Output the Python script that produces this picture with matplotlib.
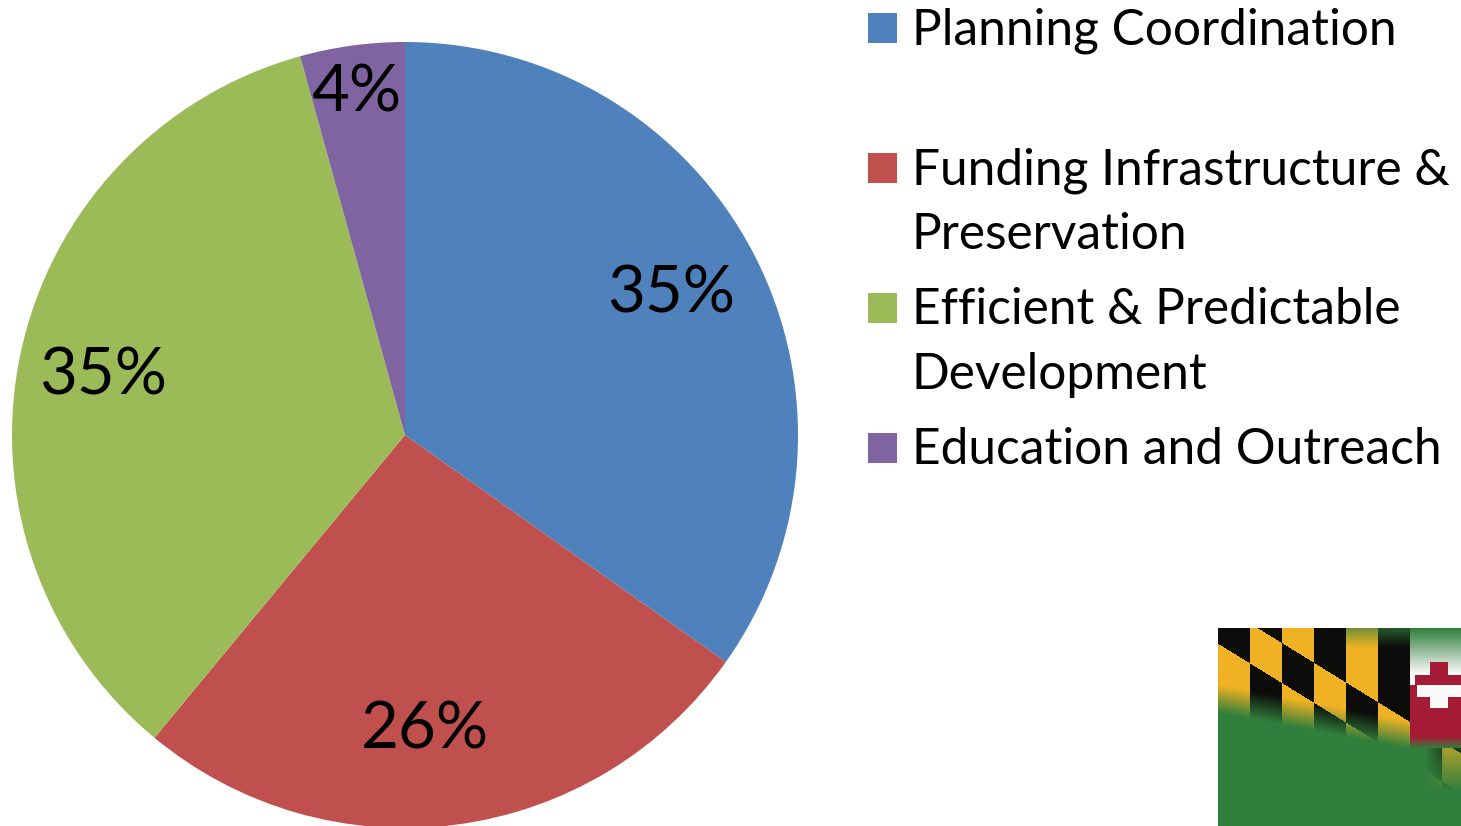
import numpy as np
import matplotlib
matplotlib.use("Agg")
import matplotlib.pyplot as plt

labels = ["Planning Coordination", "Funding Infrastructure &\nPreservation",
          "Efficient & Predictable\nDevelopment", "Education and Outreach"]
shares = [34.8, 26.2, 34.7, 4.3]
colors = ["#4F81BD", "#C0504D", "#9BBB59", "#8064A2"]

W, H = 1461, 826
FONT = ["Lato", "DejaVu Sans"]

fig = plt.figure(figsize=(W / 100, H / 100), dpi=100)
fig.patch.set_facecolor("white")

# pie axes: centre (405, 435) px, radius 393 px
cx, cy, r = 405, 435, 393
ax = fig.add_axes([(cx - r) / W, (H - cy - r) / H, 2 * r / W, 2 * r / H])
wedges, texts, autotexts = ax.pie(shares, colors=colors, startangle=90, counterclock=False,
                                  autopct="%.0f%%", pctdistance=0.76,
                                  wedgeprops=dict(linewidth=0),
                                  textprops=dict(fontsize=47, family=FONT, color="black"))
ax.set_xlim(-1, 1)
ax.set_ylim(-1, 1)
ax.set_aspect("equal")

# nudge the percent labels to where the original puts them
label_r = [0.766, 0.753, 0.782, 0.88]
label_da = [0.5, -3.7, 1.0, 0.3]
for w, t, lr, da in zip(wedges, autotexts, label_r, label_da):
    a = np.deg2rad((w.theta1 + w.theta2) / 2 + da)
    t.set_position((lr * np.cos(a), lr * np.sin(a)))

# legend drawn by hand
row_base = [44, 184, 324, 464]
line_gap = 65
for lab, col, yb in zip(labels, colors, row_base):
    fig.patches.append(plt.Rectangle((868 / W, 1 - (yb - 1) / H), 29 / W, 30 / H,
                                     transform=fig.transFigure, facecolor=col,
                                     edgecolor="none"))
    for k, line in enumerate(lab.split("\n")):
        fig.text(912 / W, 1 - (yb + k * line_gap) / H, line, fontsize=35.7,
                 family=FONT, va="baseline", ha="left", color="black")

# Maryland flag corner picture
fx0, fy0, fw, fh = 1218, 628, 243, 198
yy, xx = np.mgrid[0:fh, 0:fw].astype(float)
px = xx + fx0
py = yy + fy0
green = np.array([49, 127, 61]) / 255
yellow = np.array([240, 178, 36]) / 255
black = np.array([12, 12, 10]) / 255
red = np.array([165, 26, 52]) / 255
white = np.array([250, 250, 250]) / 255

img = np.ones((fh, fw, 3)) * green
col = np.floor((px - 1218) / 32.0)
lineB = 628.3 + 0.616 * (px - 1258.3)
in_bend = (py >= lineB) & (py < lineB + 40)
is_black = ((col % 2) == 1) ^ in_bend
pat = np.where(is_black[..., None], black, yellow)
y_end = 712 + 0.19 * (px - 1218)
fade = np.clip((y_end - py) / 28.0, 0, 1)
top_fade = np.where(px > 1345, np.clip(0.35 + (py - 628) / 30.0, 0, 1), 1)
fade = fade * top_fade
fade = np.where(py >= 748, 0, fade)
in_pat = px < 1410
f = np.where(in_pat, fade, 0)[..., None]
img = img * (1 - f) + pat * f

# faint pattern continuing below the quadrant
low = (px >= 1410) & (py >= 748)
lf = np.clip((790 - py) / 40.0, 0, 1) * np.clip((px - 1425) / 20.0, 0, 1) * 0.6
lf = np.where(low, lf, 0)[..., None]
img = img * (1 - lf) + pat * lf

# quadrant with cross
quad = (px >= 1410) & (py < 748)
upper = py < 685
vert = np.abs(px - 1438.5) <= 8.5
red_up = (vert & (py >= 662)) | ((px >= 1415) & (py >= 675))
white_lo = (vert & (py < 708)) | ((px >= 1417) & (py < 697))
qcol = np.where((upper & ~red_up)[..., None], white, red)
qcol = np.where((~upper & white_lo)[..., None], white, qcol)
wf = np.clip((py - 628) / 45.0, 0, 1)[..., None]
qcol = np.where((upper & ~red_up)[..., None], green * (1 - wf) + white * wf, qcol)
qf = np.clip((748 - py) / 12.0, 0, 1)[..., None]
qcol = green * (1 - qf) + qcol * qf
img = np.where(quad[..., None], qcol, img)

fax = fig.add_axes([fx0 / W, 0, fw / W, fh / H])
fax.imshow(img, aspect="auto", interpolation="bilinear")
fax.axis("off")

fig.savefig("out.png", dpi=100)
